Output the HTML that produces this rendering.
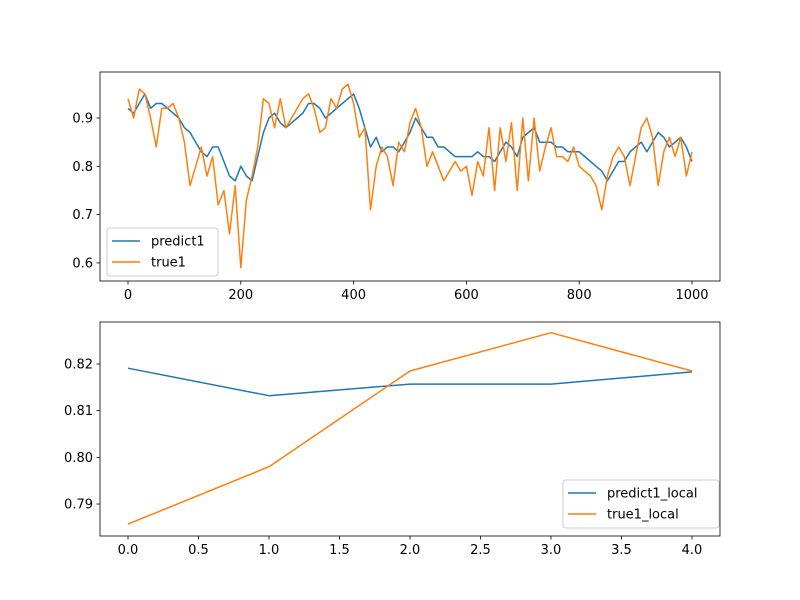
<!DOCTYPE html>
<html><head><meta charset="utf-8"><style>body{margin:0;background:#fff}svg{display:block;font-family:"DejaVu Sans","Liberation Sans",sans-serif}</style></head>
<body>
<svg id="fig" width="800" height="600">
<rect width="800" height="600" fill="#fff"/>
<g id="top"></g>
<g id="bot"></g>
</svg>
<script>
const topPredict=[0.92,0.91,0.93,0.95,0.92,0.93,0.93,0.92,0.91,0.90,0.88,0.87,0.85,0.83,0.82,0.84,0.84,0.81,0.78,0.77,0.80,0.78,0.77,0.82,0.87,0.90,0.91,0.89,0.88,0.89,0.90,0.91,0.93,0.93,0.92,0.90,0.91,0.92,0.93,0.94,0.95,0.92,0.88,0.84,0.86,0.83,0.84,0.84,0.83,0.85,0.87,0.90,0.88,0.86,0.86,0.84,0.84,0.83,0.82,0.82,0.82,0.82,0.83,0.82,0.82,0.81,0.83,0.85,0.84,0.82,0.86,0.87,0.88,0.85,0.85,0.85,0.84,0.84,0.83,0.83,0.83,0.82,0.81,0.80,0.79,0.77,0.79,0.81,0.81,0.83,0.84,0.85,0.83,0.85,0.87,0.86,0.84,0.85,0.86,0.84,0.81];
const topTrue=[0.94,0.90,0.96,0.95,0.90,0.84,0.92,0.92,0.93,0.90,0.85,0.76,0.80,0.84,0.78,0.82,0.72,0.75,0.66,0.76,0.59,0.73,0.78,0.84,0.94,0.93,0.88,0.94,0.88,0.90,0.92,0.94,0.95,0.92,0.87,0.88,0.94,0.92,0.96,0.97,0.93,0.86,0.88,0.71,0.80,0.84,0.82,0.76,0.85,0.83,0.89,0.92,0.88,0.80,0.83,0.80,0.77,0.79,0.81,0.79,0.80,0.74,0.81,0.78,0.88,0.75,0.88,0.81,0.89,0.75,0.90,0.77,0.90,0.79,0.84,0.88,0.82,0.82,0.81,0.84,0.80,0.79,0.78,0.76,0.71,0.78,0.82,0.84,0.82,0.76,0.82,0.88,0.90,0.86,0.76,0.83,0.86,0.82,0.86,0.78,0.83];
const topStep=10;
const topXTicks=[0,200,400,600,800,1000];
const topYTicks=[0.6,0.7,0.8,0.9];
const botX=[0,1,2,3,4];
const botPredict=[0.8191,0.8132,0.8157,0.8157,0.8183];
const botTrue=[0.7857,0.7980,0.8185,0.8267,0.8185];
const botXTicks=[0,0.5,1,1.5,2,2.5,3,3.5,4];
const botYTicks=[0.79,0.80,0.81,0.82];
const NS='http://www.w3.org/2000/svg';
function mk(p,t,a){const e=document.createElementNS(NS,t);for(const k in a)e.setAttribute(k,a[k]);p.appendChild(e);return e;}
function chart(g,L,T,W,H,sx,sy,xt,yt,fx,fy,series,leg){
  for(const v of xt){const x=sx(v);
    const tk=mk(g,'line',{x1:x,x2:x,y1:T+H,y2:T+H+3.5,stroke:'#000','stroke-width':0.8});
    
    const tx=mk(g,'text',{x:x,y:T+H+18,'text-anchor':'middle','font-size':13});tx.textContent=fx(v);
    }
  for(const v of yt){const y=sy(v);
    const tk=mk(g,'line',{x1:L-3.5,x2:L,y1:y,y2:y,stroke:'#000','stroke-width':0.8});
    
    const tx=mk(g,'text',{x:L-7,y:y+4.5,'text-anchor':'end','font-size':13});tx.textContent=fy(v);
    }
  for(const s of series){
    const p=mk(g,'polyline',{points:s.pts.map(q=>sx(q[0]).toFixed(1)+','+sy(q[1]).toFixed(1)).join(' '),fill:'none',stroke:s.c,'stroke-width':1.5,'stroke-linejoin':'round'});
    }
  const fr=mk(g,'rect',{x:L,y:T,width:W,height:H,fill:'none',stroke:'#000','stroke-width':0.8});
  
  const lg=mk(g,'g',{});
  
  mk(lg,'rect',{x:leg.x,y:leg.y,width:leg.w,height:48,rx:3,fill:'#fff','fill-opacity':0.8,stroke:'#ccc'});
  series.forEach((s,i)=>{const y=leg.y+13+i*21;
    const e=mk(lg,'g',{});
    
    mk(e,'line',{x1:leg.x+5,x2:leg.x+33,y1:y,y2:y,stroke:s.c,'stroke-width':1.5});
    const t=mk(e,'text',{x:leg.x+44,y:y+4.5,'font-size':13});t.textContent=s.name;});
}
const tg=document.getElementById('top');
chart(tg,100,72,620,209,v=>128+v*0.564,v=>118+(0.9-v)*483,topXTicks,topYTicks,v=>String(v),v=>v.toFixed(1),
 [{name:'predict1',c:'#1f77b4',pts:topPredict.map((v,i)=>[i*topStep,v])},{name:'true1',c:'#ff7f0e',pts:topTrue.map((v,i)=>[i*topStep,v])}],
 {x:107,y:228,w:111});
const bg=document.getElementById('bot');
chart(bg,100,322,620,214,v=>128+v*141,v=>364+(0.82-v)*4667,botXTicks,botYTicks,v=>v.toFixed(1),v=>v.toFixed(2),
 [{name:'predict1_local',c:'#1f77b4',pts:botPredict.map((v,i)=>[botX[i],v])},{name:'true1_local',c:'#ff7f0e',pts:botTrue.map((v,i)=>[botX[i],v])}],
 {x:563,y:480,w:156});
</script>
</body></html>
